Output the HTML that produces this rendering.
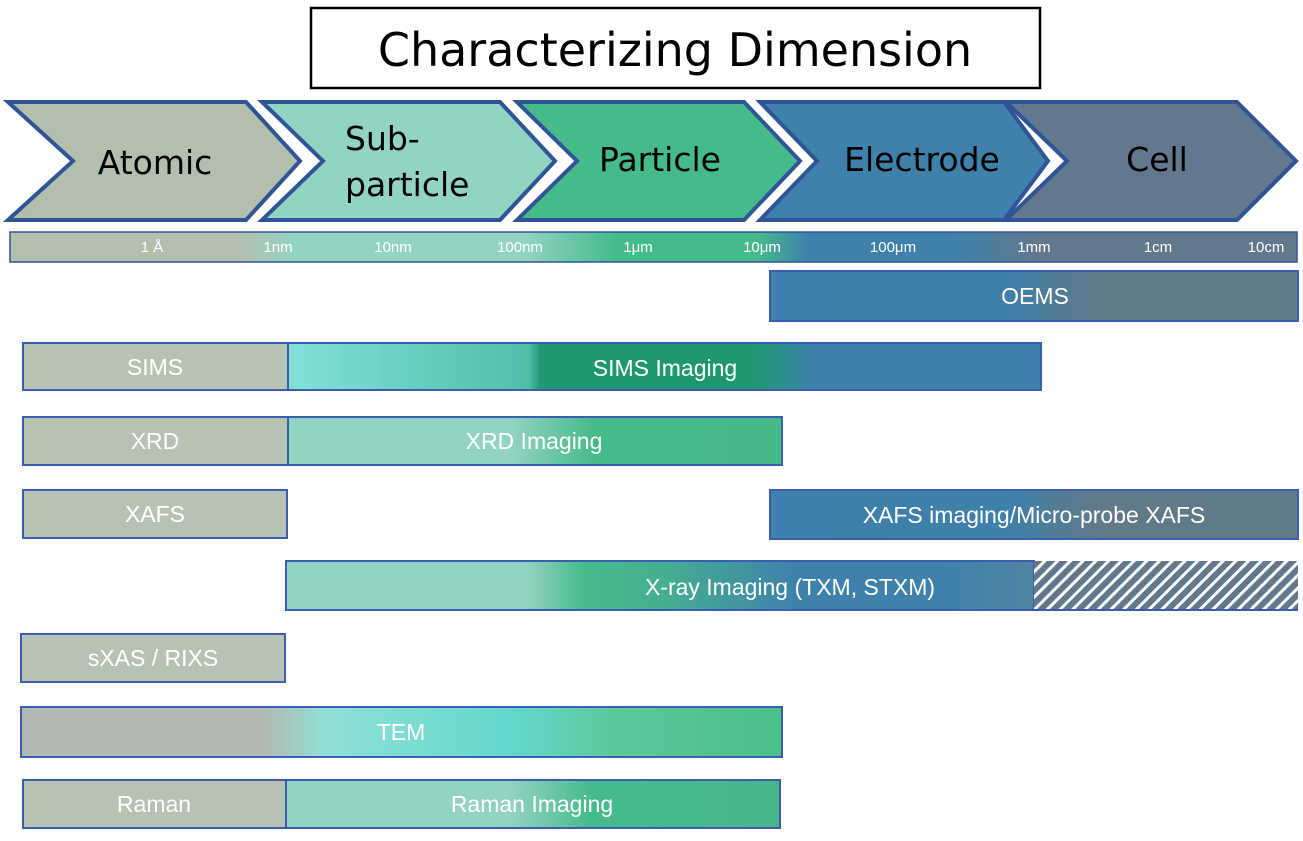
<!DOCTYPE html>
<html><head><meta charset="utf-8"><style>
html,body{margin:0;padding:0;background:#fff;}
svg{display:block;}
.ch{font-family:"DejaVu Sans","Liberation Sans",sans-serif;font-size:33px;fill:#000;}
.sc{font-family:"Liberation Sans",sans-serif;font-size:15px;fill:#fff;text-anchor:middle;}
.bt{font-family:"Liberation Sans",sans-serif;font-size:23px;fill:#fff;text-anchor:middle;}
</style></head><body>
<svg width="1303" height="841" viewBox="0 0 1303 841" xmlns="http://www.w3.org/2000/svg">
<defs>
<linearGradient id="scale" gradientUnits="userSpaceOnUse" x1="10" x2="1297" y1="0" y2="0">
<stop offset="0" stop-color="#b3bfad"/><stop offset="0.18" stop-color="#b3bfad"/>
<stop offset="0.22" stop-color="#93d3c3"/><stop offset="0.40" stop-color="#93d3c3"/>
<stop offset="0.47" stop-color="#45bb8a"/><stop offset="0.58" stop-color="#45bb8a"/>
<stop offset="0.62" stop-color="#3e82ab"/><stop offset="0.73" stop-color="#3e82ab"/>
<stop offset="0.80" stop-color="#62788c"/><stop offset="1" stop-color="#62788c"/>
</linearGradient>
<linearGradient id="bluegray" x1="0" x2="1">
<stop offset="0" stop-color="#3e7fab"/><stop offset="0.45" stop-color="#3e80aa"/><stop offset="0.62" stop-color="#607a88"/><stop offset="1" stop-color="#607a88"/>
</linearGradient>
<linearGradient id="sims" gradientUnits="userSpaceOnUse" x1="288" x2="1041" y1="0" y2="0">
<stop offset="0" stop-color="#82e0d8"/><stop offset="0.32" stop-color="#50bfa8"/>
<stop offset="0.335" stop-color="#1e9870"/><stop offset="0.62" stop-color="#1f9872"/>
<stop offset="0.70" stop-color="#3e7fab"/><stop offset="1" stop-color="#3e7fab"/>
</linearGradient>
<linearGradient id="tg" x1="0" x2="1">
<stop offset="0" stop-color="#93d3c3"/><stop offset="0.45" stop-color="#93d3c3"/><stop offset="0.62" stop-color="#45bb8a"/><stop offset="1" stop-color="#45b888"/>
</linearGradient>
<linearGradient id="xray" gradientUnits="userSpaceOnUse" x1="286" x2="1034" y1="0" y2="0">
<stop offset="0" stop-color="#93d3c3"/><stop offset="0.32" stop-color="#93d3c3"/>
<stop offset="0.40" stop-color="#45bb8a"/><stop offset="0.50" stop-color="#45b090"/>
<stop offset="0.68" stop-color="#3e82ab"/><stop offset="0.88" stop-color="#3e82ab"/><stop offset="1" stop-color="#5085a0"/>
</linearGradient>
<linearGradient id="tem" gradientUnits="userSpaceOnUse" x1="21" x2="782" y1="0" y2="0">
<stop offset="0" stop-color="#b2b9b3"/><stop offset="0.32" stop-color="#b2b9b3"/>
<stop offset="0.40" stop-color="#8fe0d6"/><stop offset="0.65" stop-color="#62d8cc"/>
<stop offset="0.78" stop-color="#5cc89a"/><stop offset="1" stop-color="#4ac08a"/>
</linearGradient>
<pattern id="hatch" patternUnits="userSpaceOnUse" width="9" height="9" patternTransform="rotate(45)">
<rect width="9" height="9" fill="#62788c"/><rect width="3" height="9" fill="#fff"/>
</pattern>
</defs>

<rect x="311" y="8" width="729" height="80" fill="#fff" stroke="#000" stroke-width="2.5"/>
<text x="675" y="66" font-family="DejaVu Sans, Liberation Sans, sans-serif" font-size="46" text-anchor="middle">Characterizing Dimension</text>

<g stroke="#2f5597" stroke-width="4" stroke-linejoin="miter">
<polygon points="8,102 246,102 300,161 246,220 8,220 73,161" fill="#b3bfad"/>
<polygon points="262,102 500,102 555,161 500,220 262,220 323,161" fill="#93d3c3"/>
<polygon points="517,102 744,102 800,161 744,220 517,220 577,161" fill="#45bb8a"/>
<polygon points="760,102 1004,102 1048,161 1004,220 760,220 817,161" fill="#3e82ab"/>
<polygon points="1006,102 1237,102 1296,161 1237,220 1006,220 1067,161" fill="#62788c"/>
</g>
<text class="ch" x="155" y="174" text-anchor="middle">Atomic</text>
<text class="ch" x="345" y="150">Sub-</text>
<text class="ch" x="345" y="196">particle</text>
<text class="ch" x="660" y="171" text-anchor="middle">Particle</text>
<text class="ch" x="922" y="171" text-anchor="middle">Electrode</text>
<text class="ch" x="1157" y="171" text-anchor="middle">Cell</text>

<rect x="10" y="232" width="1287" height="30" fill="url(#scale)" stroke="#2f5597" stroke-width="1.5"/>
<g>
<text class="sc" x="152" y="252" font-family="Liberation Serif, serif">1 Å</text>
<text class="sc" x="278" y="252">1nm</text>
<text class="sc" x="393" y="252">10nm</text>
<text class="sc" x="520" y="252">100nm</text>
<text class="sc" x="638" y="252">1μm</text>
<text class="sc" x="762" y="252">10μm</text>
<text class="sc" x="893" y="252">100μm</text>
<text class="sc" x="1034" y="252">1mm</text>
<text class="sc" x="1158" y="252">1cm</text>
<text class="sc" x="1266" y="252">10cm</text>
</g>

<g stroke="#3a5fb0" stroke-width="2">
<rect x="770" y="271" width="528" height="50" fill="url(#bluegray)"/>
<rect x="23" y="343" width="265" height="47" fill="#b8c2b2"/>
<rect x="288" y="343" width="753" height="47" fill="url(#sims)"/>
<rect x="23" y="417" width="265" height="48" fill="#b8c2b2"/>
<rect x="288" y="417" width="494" height="48" fill="url(#tg)"/>
<rect x="23" y="490" width="264" height="48" fill="#b8c2b2"/>
<rect x="770" y="490" width="528" height="49" fill="url(#bluegray)"/>
<rect x="286" y="561" width="748" height="49" fill="url(#xray)"/>
<rect x="1034" y="561" width="264" height="49" fill="url(#hatch)" stroke="none"/>
<rect x="21" y="634" width="264" height="48" fill="#b8c2b2"/>
<rect x="21" y="707" width="761" height="50" fill="url(#tem)"/>
<rect x="23" y="780" width="263" height="48" fill="#b8c2b2"/>
<rect x="286" y="780" width="494" height="48" fill="url(#tg)"/>
</g>
<line x1="1034" y1="610" x2="1298" y2="610" stroke="#3a5fb0" stroke-width="2"/>

<text class="bt" x="1035" y="304">OEMS</text>
<text class="bt" x="155" y="375">SIMS</text>
<text class="bt" x="665" y="376">SIMS Imaging</text>
<text class="bt" x="155" y="449">XRD</text>
<text class="bt" x="534" y="449">XRD Imaging</text>
<text class="bt" x="155" y="522">XAFS</text>
<text class="bt" x="1034" y="523">XAFS imaging/Micro-probe XAFS</text>
<text class="bt" x="790" y="595">X-ray Imaging (TXM, STXM)</text>
<text class="bt" x="153" y="666">sXAS / RIXS</text>
<text class="bt" x="401" y="740">TEM</text>
<text class="bt" x="154" y="812">Raman</text>
<text class="bt" x="532" y="812">Raman Imaging</text>
</svg>
</body></html>
